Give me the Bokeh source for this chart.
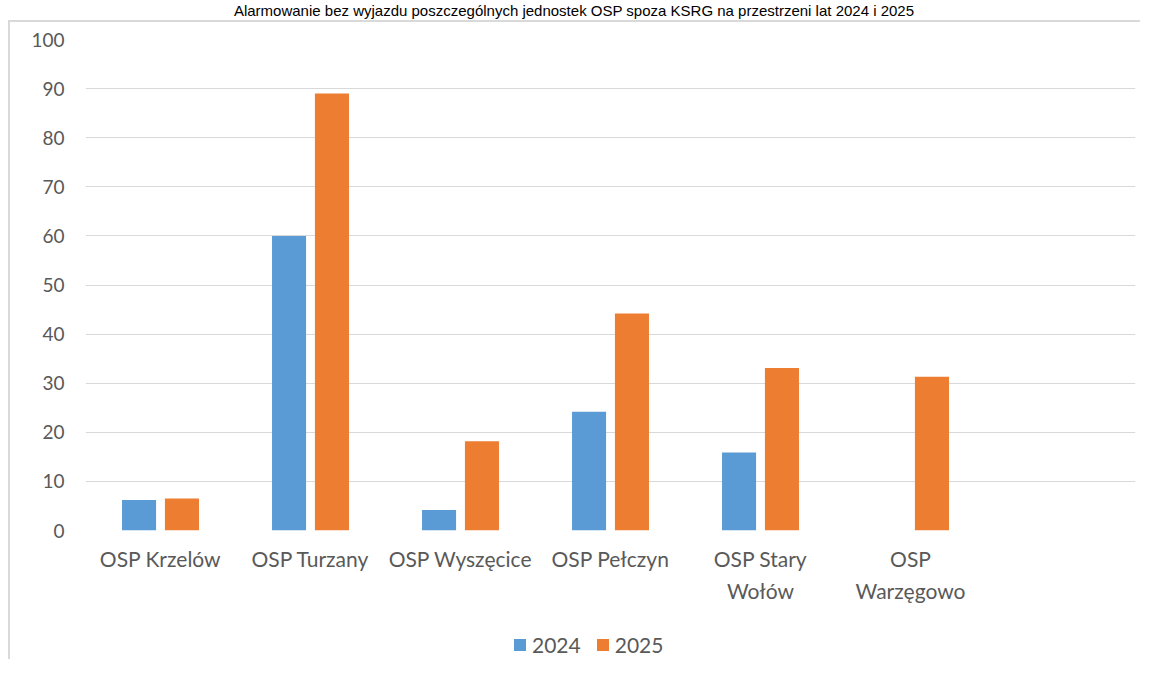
from bokeh.plotting import figure
from bokeh.models import (FactorRange, Range1d, FixedTicker, Legend, LegendItem,
                          ColumnDataSource, CategoricalAxis, Div)
from bokeh.layouts import column
from bokeh.transform import dodge
from bokeh.embed import file_html
from bokeh.resources import INLINE

# ---- data ----
title_text = "Alarmowanie bez wyjazdu poszczególnych jednostek OSP spoza KSRG na przestrzeni lat 2024 i 2025"
categories = ["OSP Krzelów", "OSP Turzany", "OSP Wyszęcice", "OSP Pełczyn",
              "OSP Stary Wołów", "OSP Warzęgowo"]
label_line1 = ["OSP Krzelów", "OSP Turzany", "OSP Wyszęcice", "OSP Pełczyn",
               "OSP Stary", "OSP"]
label_line2 = ["", "", "", "", "Wołów", "Warzęgowo"]
values_2024 = [6.2, 60, 4.2, 24.2, 15.9, float("nan")]
values_2025 = [6.5, 89, 18.2, 44.2, 33.1, 31.3]
series_names = ["2024", "2025"]
y_ticks = list(range(0, 101, 10))

BLUE = "#5B9BD5"
ORANGE = "#ED7D31"
GRID = "#D9D9D9"
TXT = "#595959"
FONT = "Lato"

# factor lists (an empty 7th slot as in the reference; blanks made unique)
def uniq(labels):
    out = []
    for i, t in enumerate(labels):
        out.append(t if t else " " * (i + 1))
    return out

factors = categories + [" "]
factors_l1 = uniq(label_line1 + [""])
factors_l2 = uniq(label_line2 + [""])

src = ColumnDataSource(dict(cat=categories, v24=values_2024, v25=values_2025))

p = figure(width=1130, height=583, x_range=FactorRange(*factors),
           y_range=Range1d(0, 100), output_backend="svg", toolbar_location=None,
           min_border_left=75, min_border_right=5, min_border_top=17,
           min_border_bottom=74)
p.extra_x_ranges = {"l1": FactorRange(*factors_l1), "l2": FactorRange(*factors_l2)}
p.outline_line_color = None
p.background_fill_color = "white"
p.border_fill_color = "white"
p.styles = {"border-top": f"2px solid {GRID}"}

r1 = p.vbar(x=dodge("cat", -0.143, range=p.x_range), top="v24", width=0.227,
            source=src, fill_color=BLUE, line_color=None)
r2 = p.vbar(x=dodge("cat", 0.143, range=p.x_range), top="v25", width=0.227,
            source=src, fill_color=ORANGE, line_color=None)

# grid
p.xgrid.grid_line_color = None
p.ygrid.grid_line_color = GRID
p.ygrid.grid_line_width = 1.2
p.yaxis.ticker = FixedTicker(ticks=y_ticks)

# y axis
p.yaxis.axis_line_color = None
p.yaxis.major_tick_line_color = None
p.yaxis.minor_tick_line_color = None
p.yaxis.major_tick_in = 0
p.yaxis.major_tick_out = 0
p.yaxis.major_label_standoff = 21
p.yaxis.major_label_text_font = FONT
p.yaxis.major_label_text_font_size = "19px"
p.yaxis.major_label_text_color = TXT

# x axis: two label lines as two categorical axes
p.xaxis.visible = False

def make_xaxis(rng, standoff):
    ax = CategoricalAxis(x_range_name=rng)
    ax.axis_line_color = None
    ax.major_tick_line_color = None
    ax.major_tick_in = 0
    ax.major_tick_out = 0
    ax.major_label_standoff = standoff
    ax.major_label_text_font = FONT
    ax.major_label_text_font_size = "21px"
    ax.major_label_text_color = TXT
    p.add_layout(ax, "below")
    return ax

make_xaxis("l1", 15)
make_xaxis("l2", 4)

# legend in its own strip below the chart (swatch renderers have zero size)
pl = figure(width=1130, height=56, output_backend="svg", toolbar_location=None,
            x_axis_location=None, y_axis_location=None,
            x_range=Range1d(0, 1), y_range=Range1d(0, 1),
            min_border=0, min_border_left=0, min_border_right=0,
            min_border_top=0, min_border_bottom=0)
pl.outline_line_color = None
pl.xgrid.visible = False
pl.ygrid.visible = False
lr1 = pl.vbar(x=[0.5], top=[0], bottom=[0], width=0, fill_color=BLUE, line_color=None)
lr2 = pl.vbar(x=[0.5], top=[0], bottom=[0], width=0, fill_color=ORANGE, line_color=None)
legend = Legend(items=[LegendItem(label=series_names[0], renderers=[lr1]),
                       LegendItem(label=series_names[1], renderers=[lr2])],
                orientation="horizontal", location=(427, 2),
                glyph_width=15, glyph_height=15, label_standoff=5, spacing=14,
                padding=0, margin=0, border_line_color=None,
                background_fill_alpha=0,
                label_text_font=FONT, label_text_font_size="21px",
                label_text_color=TXT)
pl.add_layout(legend, "center")

title = Div(text=title_text, width=1148, height=20, margin=0,
            styles={"font-family": "Liberation Sans", "font-size": "15px",
                    "text-align": "center", "color": "black"})

chart_box = column(p, pl, spacing=0,
                   styles={"border-left": f"2px solid {GRID}", "margin-left": "8px"})
layout = column(title, chart_box, spacing=0)

open("out.html", "w").write(file_html(layout, INLINE))
